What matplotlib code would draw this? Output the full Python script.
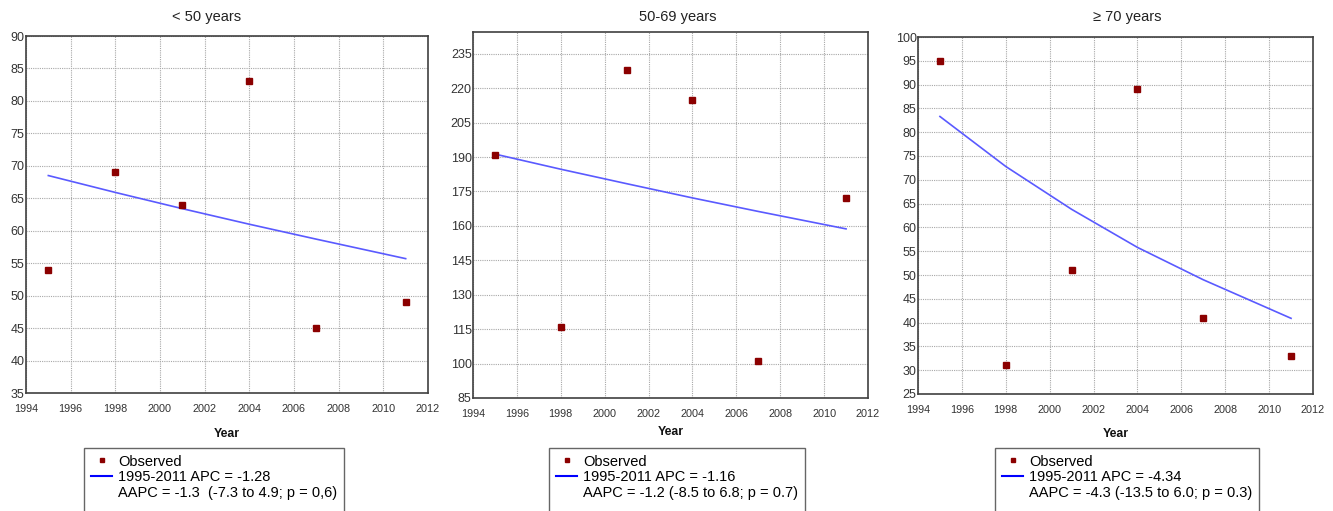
import matplotlib
matplotlib.use("Agg")
import matplotlib.pyplot as plt
from matplotlib.lines import Line2D

plt.rcParams['font.family'] = ['Liberation Sans', 'DejaVu Sans']

years = [1995, 1998, 2001, 2004, 2007, 2011]

titles = ["< 50 years", "50-69 years", "\u2265 70 years"]

obs_lt50 = [54, 69, 64, 83, 45, 49]
fit_lt50 = [68.5, 65.9, 63.4, 61.0, 58.7, 55.7]

obs_50_69 = [191, 116, 228, 215, 101, 172]
fit_50_69 = [191.3, 184.7, 178.4, 172.2, 166.3, 158.7]

obs_ge70 = [95, 31, 51, 89, 41, 33]
fit_ge70 = [83.3, 72.8, 63.8, 55.8, 49.0, 40.9]

apc_labels = ["1995-2011 APC = -1.28", "1995-2011 APC = -1.16", "1995-2011 APC = -4.34"]
aapc_labels = ["AAPC = -1.3  (-7.3 to 4.9; p = 0,6)",
               "AAPC = -1.2 (-8.5 to 6.8; p = 0.7)",
               "AAPC = -4.3 (-13.5 to 6.0; p = 0.3)"]

y_limits = [(35, 90), (85, 244.5), (25, 100)]
y_ticks = [list(range(35, 91, 5)), list(range(85, 236, 15)), list(range(25, 101, 5))]
x_ticks = list(range(1994, 2013, 2))

W, H = 1333, 511
fig = plt.figure(figsize=(W / 100, H / 100), dpi=100)

# axes boxes in pixels: left, top, right, bottom
boxes = [(26, 36, 428, 393), (473, 32, 868, 398), (918, 37, 1313, 394)]
title_pos = [(207, 17), (678, 17), (1127, 17)]
legend_pos = [(84, 448), (549, 448), (995, 448)]
xlabel_pads = [10, 5, 9]

obs_all = [obs_lt50, obs_50_69, obs_ge70]
fit_all = [fit_lt50, fit_50_69, fit_ge70]

for i in range(3):
    l, t, r, b = boxes[i]
    ax = fig.add_axes([l / W, 1 - b / H, (r - l) / W, (b - t) / H])
    ax.set_xlim(1994, 2012)
    ax.set_ylim(*y_limits[i])
    ax.set_xticks(x_ticks)
    ax.set_yticks(y_ticks[i])
    ax.grid(True, color='#a8a8a8', linestyle=(0, (1, 1)), linewidth=0.8)
    ax.set_axisbelow(True)
    ax.tick_params(axis='both', length=0, colors='#333333')
    ax.tick_params(axis='x', labelsize=7.8, pad=8)
    ax.tick_params(axis='y', labelsize=9, pad=1)
    for sp in ax.spines.values():
        sp.set_color('#404040')
        sp.set_linewidth(1.2)
    ax.plot(years, fit_all[i], color='#5a5aff', linewidth=1.2, zorder=3)
    ax.plot(years, obs_all[i], linestyle='none', marker='s', markersize=4.5,
            color='#8b0000', zorder=4)
    ax.set_xlabel("Year", fontsize=8.8, fontweight='bold', labelpad=xlabel_pads[i], color='#111111')
    tx, ty = title_pos[i]
    fig.text(tx / W, 1 - ty / H, titles[i], ha='center', va='center', fontsize=10.5, color='#222222')

    handles = [
        Line2D([], [], linestyle='none', marker='s', markersize=3.5, color='#8b0000'),
        Line2D([], [], color='blue', linewidth=1.5),
        Line2D([], [], linestyle='none'),
        Line2D([], [], linestyle='none'),
    ]
    labels = ["Observed", apc_labels[i], aapc_labels[i], " "]
    lx, ly = legend_pos[i]
    leg = fig.legend(handles, labels, loc='upper left',
                     bbox_to_anchor=(lx / W, 1 - ly / H), borderaxespad=0,
                     fontsize=10.5, frameon=True, fancybox=False,
                     handlelength=1.5, handletextpad=0.4, labelspacing=0.13,
                     borderpad=0.45)
    fr = leg.get_frame()
    fr.set_edgecolor('#404040')
    fr.set_linewidth(1.0)

fig.savefig("out.png", dpi=100)
